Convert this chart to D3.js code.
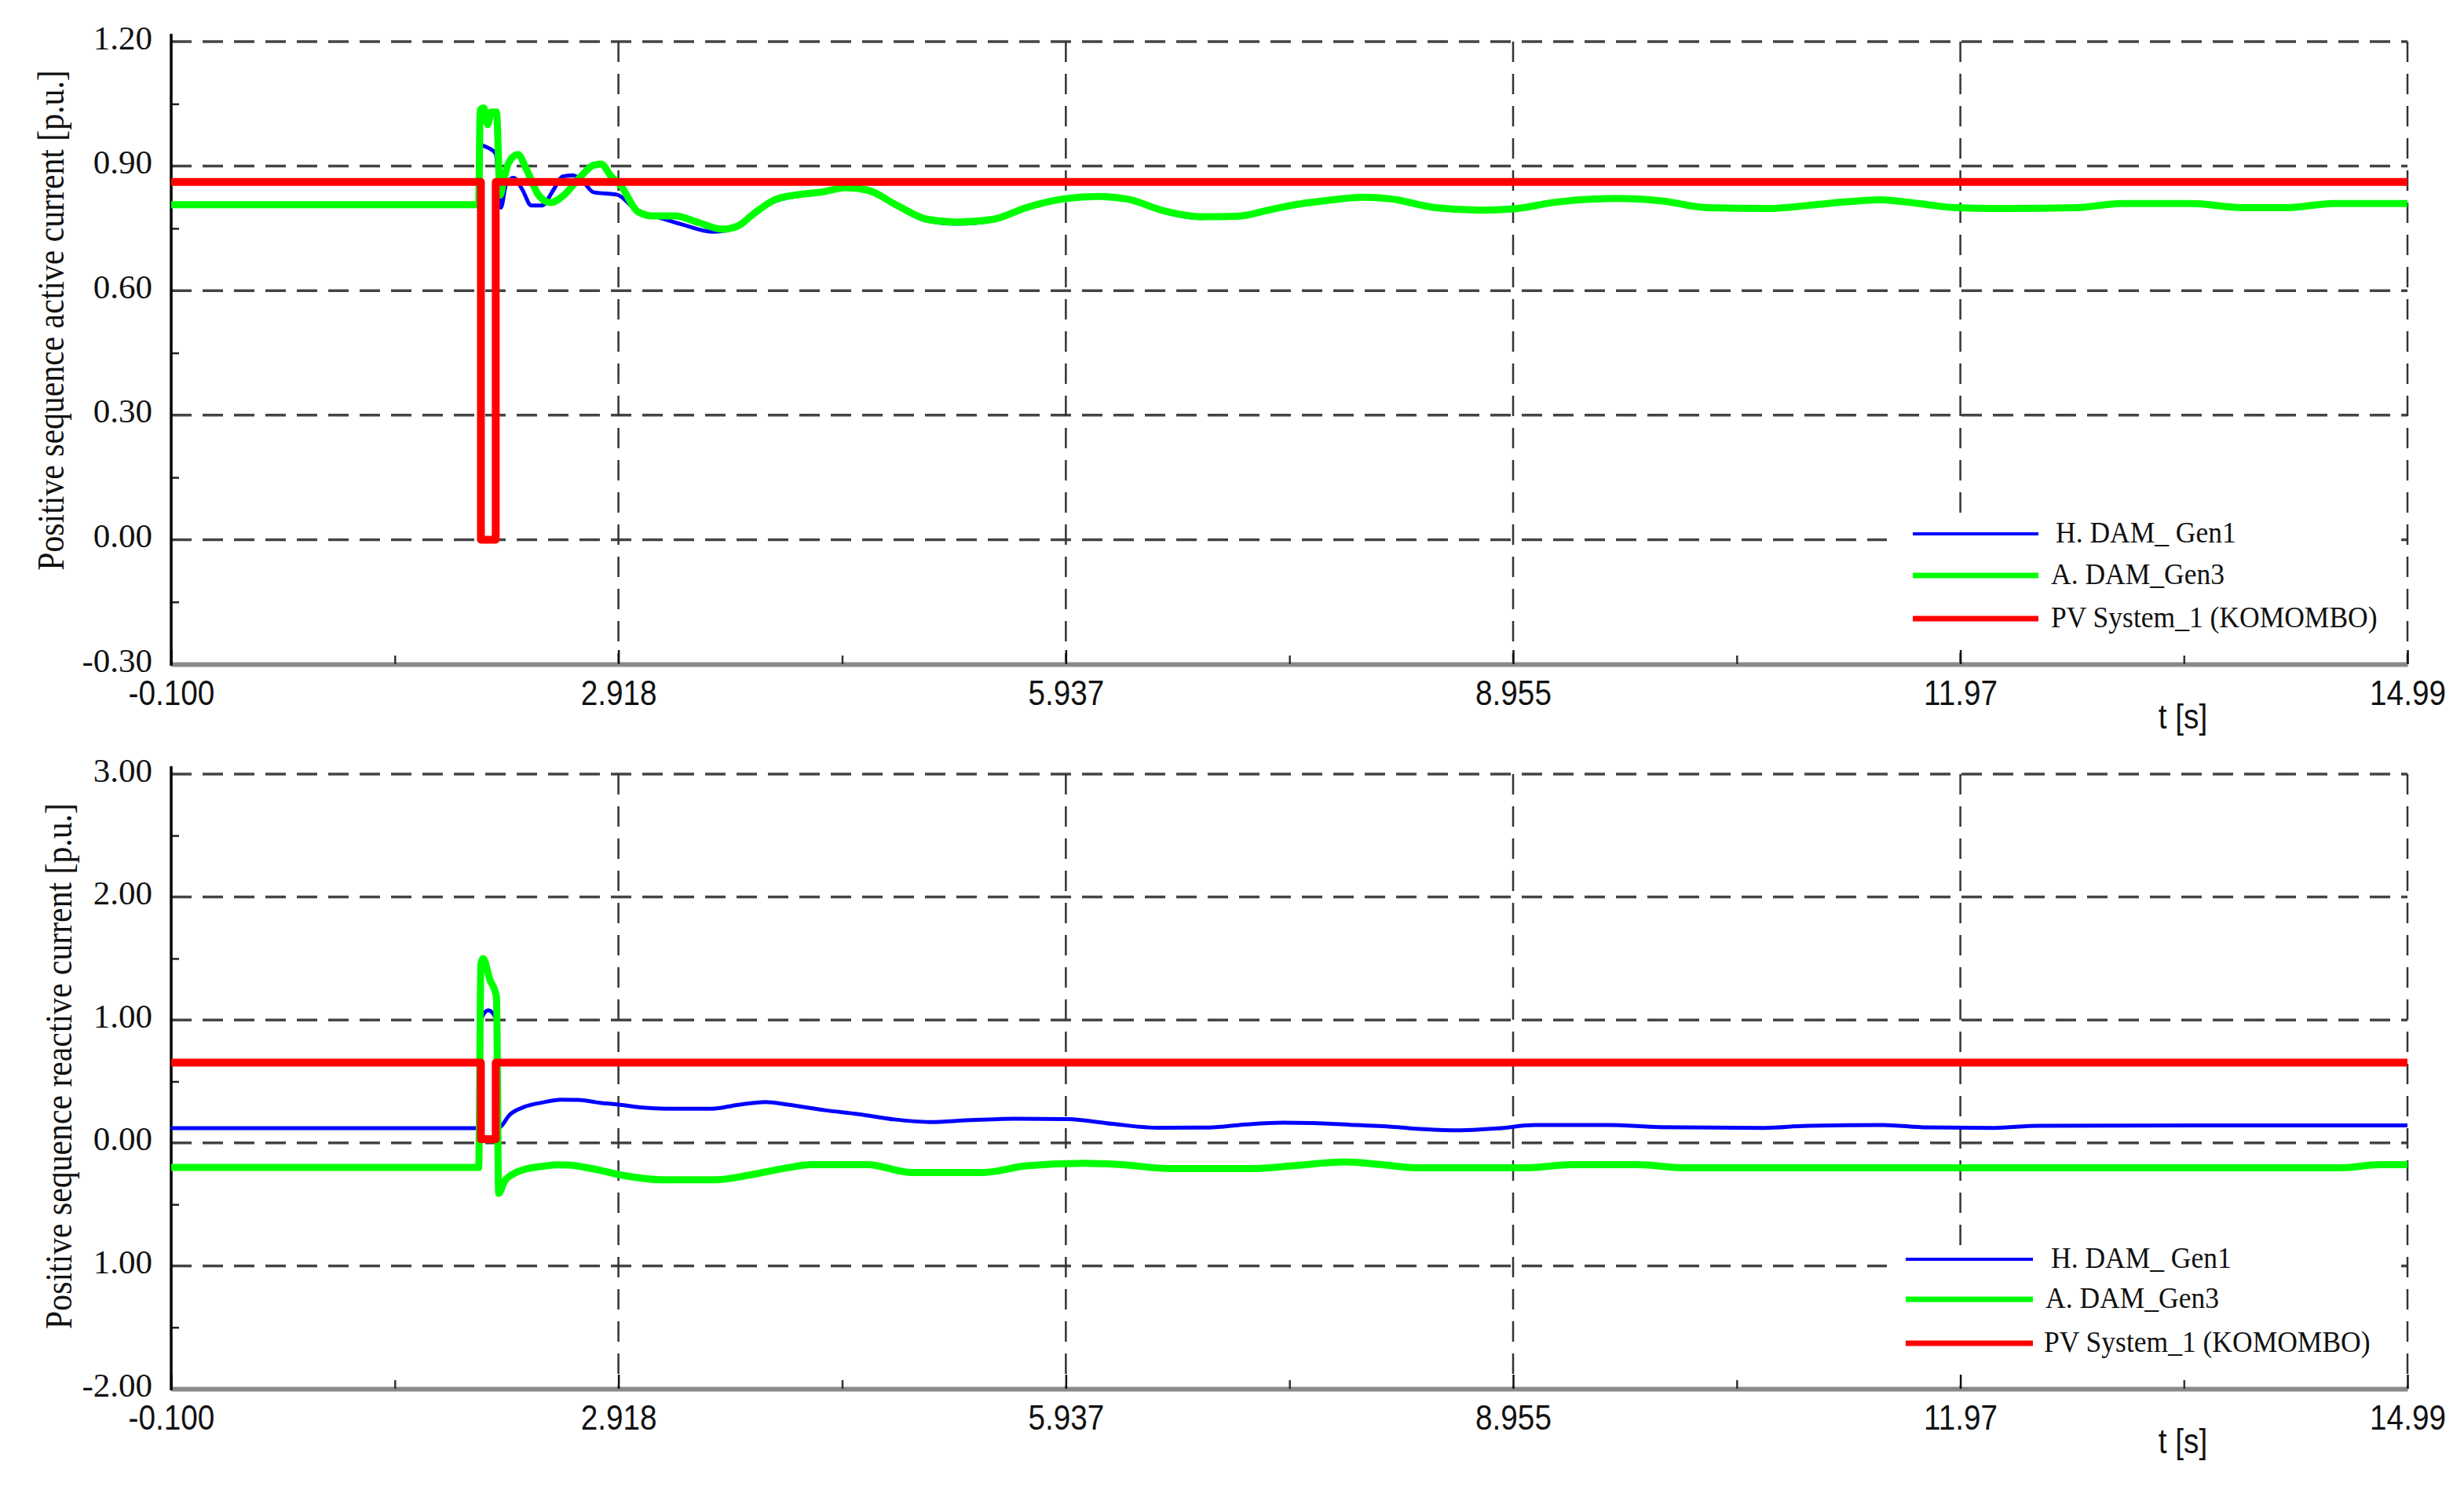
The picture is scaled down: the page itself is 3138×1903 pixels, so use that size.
<!DOCTYPE html>
<html>
<head>
<meta charset="utf-8">
<script src="https://cdn.jsdelivr.net/npm/d3@7"></script>
<style>
  html, body { margin: 0; padding: 0; background: #fff; }
  svg { display: block; }
</style>
</head>
<body>
<svg id="chart" width="3138" height="1903"></svg>
<script>
// ---------------- DATA ----------------
const seriesNames = ["H. DAM_ Gen1", "A. DAM_Gen3", "PV System_1 (KOMOMBO)"];

const xTickValues = [-0.1, 2.918, 5.937, 8.955, 11.973, 14.99];
const xTickLabels = ["-0.100", "2.918", "5.937", "8.955", "11.97", "14.99"];

const topYTickValues = [-0.3, 0, 0.3, 0.6, 0.9, 1.2];
const topYTickLabels = ["-0.30", "0.00", "0.30", "0.60", "0.90", "1.20"];
const botYTickValues = [-2, -1, 0, 1, 2, 3];
const botYTickLabels = ["-2.00", "1.00", "0.00", "1.00", "2.00", "3.00"];

const topTitle = "Positive sequence active current [p.u.]";
const botTitle = "Positive sequence reactive current [p.u.]";
const xTitle = "t [s]";

// Top panel: active current
const topGreenT = [-0.1, 1.975, 1.985, 2.01, 2.035, 2.06, 2.095, 2.12, 2.14, 2.18, 2.24, 2.30, 2.38, 2.46, 2.55, 2.65, 2.75, 2.80, 2.87, 2.93, 3.05, 3.15, 3.30, 3.45, 3.62, 3.72, 3.83, 3.98, 4.15, 4.30, 4.45, 4.60, 4.80, 5.00, 5.20, 5.45, 5.67, 5.92, 6.16, 6.36, 6.60, 6.85, 7.09, 7.34, 7.50, 7.67, 7.95, 8.13, 8.43, 8.74, 8.96, 9.24, 9.65, 9.96, 10.26, 10.67, 11.08, 11.43, 11.69, 11.94, 12.30, 12.76, 13.06, 13.52, 13.88, 14.18, 14.49, 14.99];
const topGreenV = [0.807, 0.807, 1.035, 1.04, 1.0, 1.03, 1.03, 0.83, 0.86, 0.91, 0.928, 0.89, 0.83, 0.812, 0.83, 0.87, 0.902, 0.905, 0.875, 0.855, 0.79, 0.78, 0.78, 0.765, 0.748, 0.755, 0.785, 0.82, 0.832, 0.838, 0.848, 0.842, 0.805, 0.772, 0.765, 0.772, 0.80, 0.821, 0.827, 0.82, 0.792, 0.778, 0.779, 0.797, 0.808, 0.816, 0.825, 0.821, 0.80, 0.794, 0.797, 0.813, 0.822, 0.816, 0.80, 0.798, 0.81, 0.819, 0.81, 0.80, 0.798, 0.80, 0.81, 0.81, 0.80, 0.80, 0.81, 0.81];

const topBlueT = [-0.1, 1.975, 1.985, 2.04, 2.09, 2.125, 2.16, 2.21, 2.27, 2.33, 2.40, 2.48, 2.54, 2.61, 2.68, 2.75, 2.91, 3.05, 3.20, 3.36, 3.55, 3.65, 3.80, 3.98, 4.15, 4.30, 4.45, 4.60, 4.80, 5.00, 5.20, 5.45, 5.67, 5.92, 6.16, 6.36, 6.60, 6.85, 7.09, 7.34, 7.50, 7.67, 7.95, 8.13, 8.43, 8.74, 8.96, 9.24, 9.65, 9.96, 10.26, 10.67, 11.08, 11.43, 11.69, 11.94, 12.30, 12.76, 13.06, 13.52, 13.88, 14.18, 14.49, 14.99];
const topBlueV = [0.805, 0.805, 0.95, 0.944, 0.93, 0.80, 0.856, 0.872, 0.843, 0.805, 0.805, 0.843, 0.875, 0.878, 0.862, 0.837, 0.831, 0.79, 0.775, 0.758, 0.742, 0.745, 0.778, 0.816, 0.829, 0.836, 0.846, 0.840, 0.802, 0.768, 0.761, 0.769, 0.798, 0.819, 0.825, 0.818, 0.789, 0.775, 0.777, 0.795, 0.806, 0.814, 0.823, 0.819, 0.798, 0.792, 0.795, 0.811, 0.820, 0.814, 0.798, 0.796, 0.808, 0.817, 0.808, 0.798, 0.796, 0.798, 0.808, 0.808, 0.798, 0.798, 0.808, 0.808];

const topRedT = [-0.1, 1.99, 1.99, 2.09, 2.09, 14.99];
const topRedV = [0.862, 0.862, 0.0, 0.0, 0.862, 0.862];

// Bottom panel: reactive current
const botGreenT = [-0.1, 1.975, 1.99, 2.005, 2.05, 2.095, 2.11, 2.15, 2.22, 2.30, 2.41, 2.50, 2.58, 2.74, 2.93, 3.22, 3.57, 3.83, 4.07, 4.21, 4.60, 4.89, 5.38, 5.67, 6.07, 6.31, 6.65, 7.19, 7.46, 7.82, 8.07, 8.30, 9.05, 9.35, 9.80, 10.10, 14.55, 14.80, 14.99];
const botGreenV = [-0.20, -0.20, 1.45, 1.50, 1.33, 1.19, -0.41, -0.31, -0.245, -0.21, -0.19, -0.178, -0.18, -0.209, -0.26, -0.30, -0.30, -0.255, -0.20, -0.177, -0.177, -0.24, -0.24, -0.187, -0.166, -0.177, -0.209, -0.209, -0.187, -0.155, -0.177, -0.202, -0.202, -0.177, -0.177, -0.202, -0.202, -0.177, -0.177];

const botBlueT = [-0.1, 1.975, 1.99, 2.04, 2.095, 2.11, 2.13, 2.18, 2.27, 2.41, 2.53, 2.65, 2.77, 2.93, 3.08, 3.24, 3.55, 3.72, 3.91, 4.07, 4.31, 4.54, 4.78, 5.02, 5.28, 5.60, 5.95, 6.25, 6.56, 6.90, 7.15, 7.40, 7.60, 7.90, 8.10, 8.35, 8.60, 8.85, 9.10, 9.60, 9.95, 10.65, 10.95, 11.45, 11.75, 12.20, 12.50, 14.99];
const botBlueV = [0.12, 0.12, 1.0, 1.08, 1.0, 0.12, 0.14, 0.223, 0.287, 0.33, 0.351, 0.35, 0.33, 0.31, 0.287, 0.278, 0.278, 0.309, 0.333, 0.31, 0.266, 0.234, 0.191, 0.17, 0.185, 0.196, 0.193, 0.155, 0.123, 0.125, 0.150, 0.164, 0.162, 0.145, 0.135, 0.112, 0.102, 0.118, 0.145, 0.146, 0.128, 0.122, 0.140, 0.146, 0.126, 0.122, 0.140, 0.143];

const botRedT = [-0.1, 1.99, 1.99, 2.09, 2.09, 14.99];
const botRedV = [0.653, 0.653, 0.03, 0.03, 0.653, 0.653];

// ---------------- LAYOUT / STYLE ----------------
const colors = ["#0000ff", "#00ff00", "#ff0000"];
const widths = [5, 9, 10];
const legendWidths = [4, 7, 7];

const X0 = 218, X1 = 3066;
const panels = [
  { y0: 53, y1: 846, domain: [-0.3, 1.2], yTicks: topYTickValues, yLabels: topYTickLabels, title: topTitle,
    titleX: 81, titleY: 408,
    series: [[topBlueT, topBlueV], [topGreenT, topGreenV], [topRedT, topRedV]],
    legend: { x0: 2403, x1: 3054, y0: 656, y1: 823, rows: [680, 733, 788], lineX: [2436, 2596], textX: [2618, 2612, 2612] } },
  { y0: 986, y1: 1769, domain: [-2, 3], yTicks: botYTickValues, yLabels: botYTickLabels, title: botTitle,
    titleX: 91, titleY: 1358,
    series: [[botBlueT, botBlueV], [botGreenT, botGreenV], [botRedT, botRedV]],
    legend: { x0: 2403, x1: 3054, y0: 1588, y1: 1750, rows: [1604, 1655, 1711], lineX: [2427, 2589], textX: [2612, 2605, 2603] } }
];

const svg = d3.select("#chart");
const x = d3.scaleLinear().domain([xTickValues[0], xTickValues[xTickValues.length - 1]]).range([X0, X1]);

const minorX = d3.range(xTickValues.length - 1).map(i => (xTickValues[i] + xTickValues[i + 1]) / 2);

panels.forEach(p => {
  const y = d3.scaleLinear().domain(p.domain).range([p.y1, p.y0]);
  const g = svg.append("g");

  // horizontal dashed gridlines
  g.selectAll(".hg").data(p.yTicks.slice(1)).enter().append("line")
    .attr("x1", X0).attr("x2", X1)
    .attr("y1", d => y(d)).attr("y2", d => y(d))
    .attr("stroke", "#444").attr("stroke-width", 3.5).attr("stroke-dasharray", "26,14");

  // vertical dashed gridlines
  g.selectAll(".vg").data(xTickValues.slice(1)).enter().append("line")
    .attr("x1", d => x(d)).attr("x2", d => x(d))
    .attr("y1", p.y0).attr("y2", p.y1)
    .attr("stroke", "#333").attr("stroke-width", 2.5).attr("stroke-dasharray", "26,15");

  // x axis (major ticks pointing up, labels below)
  const xa = g.append("g").attr("transform", `translate(0,${p.y1})`)
    .call(d3.axisBottom(x).tickValues(xTickValues).tickFormat((d, i) => xTickLabels[i]).tickSize(-18).tickSizeOuter(0));
  xa.select(".domain").attr("stroke", "#8a8a8a").attr("stroke-width", 6);
  xa.selectAll(".tick line").attr("stroke", "#111").attr("stroke-width", 2.5);
  xa.selectAll(".tick text")
    .attr("y", 52).attr("dy", null)
    .attr("font-family", "'Liberation Sans', Arial, sans-serif")
    .attr("font-size", 44).attr("fill", "#111")
    .attr("transform", "scale(0.88,1)");

  // minor x ticks
  const xm = g.append("g").attr("transform", `translate(0,${p.y1})`)
    .call(d3.axisBottom(x).tickValues(minorX).tickFormat("").tickSize(-11).tickSizeOuter(0));
  xm.select(".domain").remove();
  xm.selectAll(".tick line").attr("stroke", "#333").attr("stroke-width", 2.5);

  // y axis labels
  const ya = g.append("g").attr("transform", `translate(${X0},0)`)
    .call(d3.axisLeft(y).tickValues(p.yTicks).tickFormat((d, i) => p.yLabels[i]).tickSize(0).tickPadding(24));
  ya.select(".domain").remove();
  ya.selectAll(".tick text")
    .attr("dy", null).attr("y", 9)
    .attr("font-family", "'Liberation Serif', 'Times New Roman', serif")
    .attr("font-size", 43).attr("fill", "#111");

  // minor y ticks
  const minorY = d3.range(p.yTicks.length - 1).map(i => (p.yTicks[i] + p.yTicks[i + 1]) / 2);
  const ym = g.append("g").attr("transform", `translate(${X0},0)`)
    .call(d3.axisRight(y).tickValues(minorY).tickFormat("").tickSize(10).tickSizeOuter(0));
  ym.select(".domain").remove();
  ym.selectAll(".tick line").attr("stroke", "#222").attr("stroke-width", 2.5);

  // left axis line
  g.append("line").attr("x1", X0).attr("x2", X0).attr("y1", p.y0 - 10).attr("y2", p.y1 + 2)
    .attr("stroke", "#000").attr("stroke-width", 3.5);

  // data series
  p.series.forEach((s, i) => {
    const pts = s[0].map((t, k) => [t, s[1][k]]);
    const line = d3.line().x(d => x(d[0])).y(d => y(d[1]))
      .curve(i === 2 ? d3.curveLinear : d3.curveMonotoneX);
    g.append("path").datum(pts).attr("d", line)
      .attr("fill", "none").attr("stroke", colors[i]).attr("stroke-width", widths[i])
      .attr("stroke-linejoin", "round");
  });

  // y title
  g.append("text")
    .attr("transform", `translate(${p.titleX},${p.titleY}) rotate(-90) scale(0.87,1)`)
    .attr("text-anchor", "middle")
    .attr("font-family", "'Liberation Serif', 'Times New Roman', serif")
    .attr("font-size", 48).attr("fill", "#111")
    .text(p.title);

  // x title
  g.append("text")
    .attr("transform", `translate(2780,${p.y1 + 82}) scale(0.88,1)`)
    .attr("text-anchor", "middle")
    .attr("font-family", "'Liberation Sans', Arial, sans-serif")
    .attr("font-size", 44).attr("fill", "#111")
    .text(xTitle);

  // legend
  const L = p.legend;
  g.append("rect").attr("x", L.x0).attr("y", L.y0).attr("width", L.x1 - L.x0).attr("height", L.y1 - L.y0).attr("fill", "#fff");
  seriesNames.forEach((name, i) => {
    g.append("line").attr("x1", L.lineX[0]).attr("x2", L.lineX[1])
      .attr("y1", L.rows[i]).attr("y2", L.rows[i])
      .attr("stroke", colors[i]).attr("stroke-width", legendWidths[i]);
    g.append("text")
      .attr("transform", `translate(${L.textX[i]},${L.rows[i] + 11}) scale(0.96,1)`)
      .attr("font-family", "'Liberation Serif', 'Times New Roman', serif")
      .attr("font-size", 37).attr("fill", "#111")
      .text(name);
  });
});
</script>
</body>
</html>
